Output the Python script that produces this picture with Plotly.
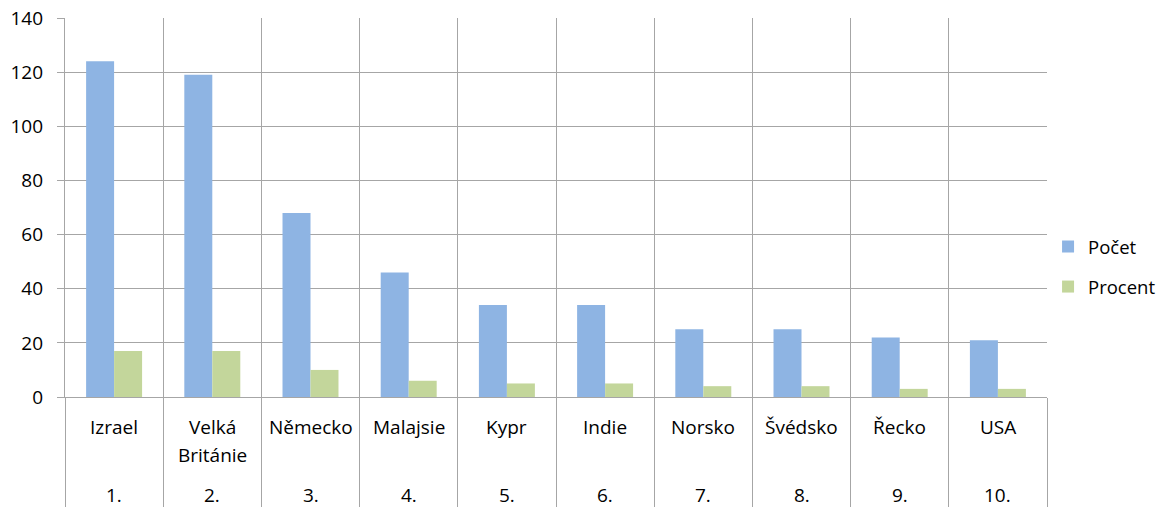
import plotly.graph_objects as go

countries = ["Izrael", "Velká<br>Británie", "Německo", "Malajsie", "Kypr",
             "Indie", "Norsko", "Švédsko", "Řecko", "USA"]
ranks = ["1.", "2.", "3.", "4.", "5.", "6.", "7.", "8.", "9.", "10."]
pocet = [124, 119, 68, 46, 34, 34, 25, 25, 22, 21]
procent = [17, 17, 10, 6, 5, 5, 4, 4, 3, 3]
y_ticks = [0, 20, 40, 60, 80, 100, 120, 140]

FONT = "Open Sans"
FS = 19
GRID = "#a6a6a6"
GW = 1.4

fig = go.Figure()
fig.add_trace(go.Bar(x=ranks, y=pocet, name="Počet", marker_color="#8EB4E3",
                     marker_line_width=0, legendgroup="a"))
fig.add_trace(go.Bar(x=ranks, y=procent, name="Procent", marker_color="#C3D69B",
                     marker_line_width=0, legendgroup="b"))

annotations = []
for i, (c, r) in enumerate(zip(countries, ranks)):
    for k, line in enumerate(c.split("<br>")):
        annotations.append(dict(x=i, y=0, xref="x", yref="paper", text=line,
                                showarrow=False, yanchor="middle",
                                yshift=-30 - 28 * k,
                                font=dict(family=FONT, size=FS, color="#000")))
    annotations.append(dict(x=i, y=0, xref="x", yref="paper", text=r,
                            showarrow=False, yanchor="middle", yshift=-98,
                            font=dict(family=FONT, size=FS, color="#000")))

# the page body has an 8px margin, so the figure is sized to fit the window
fig.update_layout(
    width=1160, height=499,
    margin=dict(l=57, r=121, t=10, b=110),
    paper_bgcolor="white", plot_bgcolor="white",
    barmode="group", bargap=0.43, bargroupgap=0,
    font=dict(family=FONT, size=FS, color="#000"),
    showlegend=True,
    legend=dict(xref="container", yref="container",
                x=0.8966, xanchor="left", y=0.481, yanchor="middle",
                bgcolor="rgba(0,0,0,0)",
                font=dict(family=FONT, size=18.5, color="#000"),
                tracegroupgap=13, itemwidth=30),
    annotations=annotations,
    xaxis=dict(type="category", categoryorder="array", categoryarray=ranks,
               range=[-0.5, len(ranks) - 0.5],
               tickson="boundaries", ticks="outside",
               ticklen=110, tickcolor=GRID, tickwidth=GW,
               showticklabels=False, showgrid=True, gridcolor=GRID,
               gridwidth=GW, showline=True, linecolor=GRID, linewidth=GW,
               zeroline=False, automargin=False),
    yaxis=dict(range=[0, 140], tickmode="array", tickvals=y_ticks,
               ticks="outside", ticklen=7, tickcolor=GRID, tickwidth=GW,
               showgrid=True, gridcolor=GRID, gridwidth=GW,
               showline=True, linecolor=GRID, linewidth=GW,
               zeroline=False, ticklabelstandoff=10, automargin=False,
               ticklabeloverflow="allow",
               tickfont=dict(family=FONT, size=FS, color="#000")),
)

fig.write_html("out.html")
